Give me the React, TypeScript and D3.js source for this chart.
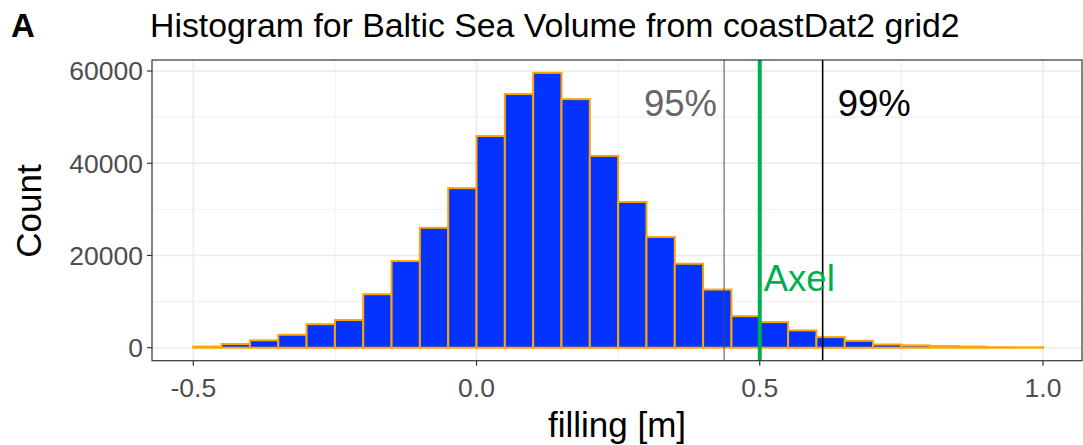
import React from "react";
import * as d3 from "d3";

const binStarts = [-0.5,-0.45,-0.4,-0.35,-0.3,-0.25,-0.2,-0.15,-0.1,-0.05,0,0.05,0.1,0.15,0.2,0.25,0.3,0.35,0.4,0.45,0.5,0.55,0.6,0.65,0.7,0.75,0.8,0.85,0.9,0.95];
const counts = [250,800,1600,2800,5100,6000,11600,18800,26000,34600,45900,55000,59600,53900,41600,31600,24000,18200,12600,6850,5550,3750,2300,1500,700,500,350,250,100,80];
const binWidth = 0.05;
const xTicks = [-0.5, 0, 0.5, 1.0];
const xTickLabels = ["-0.5", "0.0", "0.5", "1.0"];
const xMinor = [-0.75, -0.25, 0.25, 0.75, 1.25];
const yTicks = [0, 20000, 40000, 60000];
const yMinor = [10000, 30000, 50000];
const q95 = 0.437;
const q99 = 0.611;
const axel = 0.5;

const W = 1083, H = 445;
const L = 152, R = 1082, T = 60, B = 360.7;

export default function App() {
  const x = d3.scaleLinear().domain([-0.5, 1.0]).range([193.3, 1043]);
  const y = d3.scaleLinear().domain([0, 60000]).range([347.7, 71]);
  const font = "Liberation Sans, Arial, Helvetica, sans-serif";
  return (
    <svg width={W} height={H} style={{ position: "absolute", left: 0, top: 0, fontFamily: font }}>
      <rect x={0} y={0} width={W} height={H} fill="white" />
      <defs>
        <clipPath id="panel"><rect x={L} y={T} width={R - L} height={B - T} /></clipPath>
      </defs>
      <g clipPath="url(#panel)">
        {yMinor.map(v => <line key={"ym" + v} x1={L} x2={R} y1={y(v)} y2={y(v)} stroke="#ebebeb" strokeWidth={0.8} />)}
        {xMinor.map(v => <line key={"xm" + v} y1={T} y2={B} x1={x(v)} x2={x(v)} stroke="#ebebeb" strokeWidth={0.8} />)}
        {yTicks.map(v => <line key={"yg" + v} x1={L} x2={R} y1={y(v)} y2={y(v)} stroke="#ebebeb" strokeWidth={1.6} />)}
        {xTicks.map(v => <line key={"xg" + v} y1={T} y2={B} x1={x(v)} x2={x(v)} stroke="#ebebeb" strokeWidth={1.6} />)}
        {binStarts.map((s, i) => (
          <rect key={i} x={x(s)} y={y(counts[i])} width={x(s + binWidth) - x(s)} height={y(0) - y(counts[i])}
            fill="#0433ff" stroke="#ffa500" strokeWidth={2} />
        ))}
        <line x1={x(q95)} x2={x(q95)} y1={T} y2={B} stroke="#4d4d4d" strokeWidth={1} />
        <line x1={x(q99)} x2={x(q99)} y1={T} y2={B} stroke="#000" strokeWidth={1.6} />
        <line x1={x(axel)} x2={x(axel)} y1={T} y2={B} stroke="#00b050" strokeWidth={4} />
      </g>
      <rect x={L} y={T} width={R - L} height={B - T} fill="none" stroke="#333" strokeWidth={1.2} />
      <text x={x(q95) - 7} y={116} textAnchor="end" fontSize={36.5} fill="#666">95%</text>
      <text x={x(q99) + 15} y={116} fontSize={36.5} fill="#000">99%</text>
      <text x={x(axel) + 4} y={291} fontSize={36.5} fill="#00b050">Axel</text>
      {yTicks.map(v => (
        <g key={"yt" + v}>
          <line x1={L - 5} x2={L} y1={y(v)} y2={y(v)} stroke="#333" strokeWidth={1.2} />
          <text x={L - 9} y={y(v)} dy="0.35em" textAnchor="end" fontSize={26.5} fill="#4d4d4d">{v}</text>
        </g>
      ))}
      {xTicks.map((v, i) => (
        <g key={"xt" + v}>
          <line y1={B} y2={B + 5} x1={x(v)} x2={x(v)} stroke="#333" strokeWidth={1.2} />
          <text x={x(v)} y={397} textAnchor="middle" fontSize={26.5} fill="#4d4d4d">{xTickLabels[i]}</text>
        </g>
      ))}
      <text x={617} y={437} textAnchor="middle" fontSize={35} fill="#000">filling [m]</text>
      <text transform={`translate(41,${211}) rotate(-90)`} textAnchor="middle" fontSize={35} fill="#000">Count</text>
      <text x={11} y={37} fontSize={33} fontWeight="bold" fill="#000">A</text>
      <text x={150} y={37} fontSize={33.8} fill="#000">Histogram for Baltic Sea Volume from coastDat2 grid2</text>
    </svg>
  );
}
